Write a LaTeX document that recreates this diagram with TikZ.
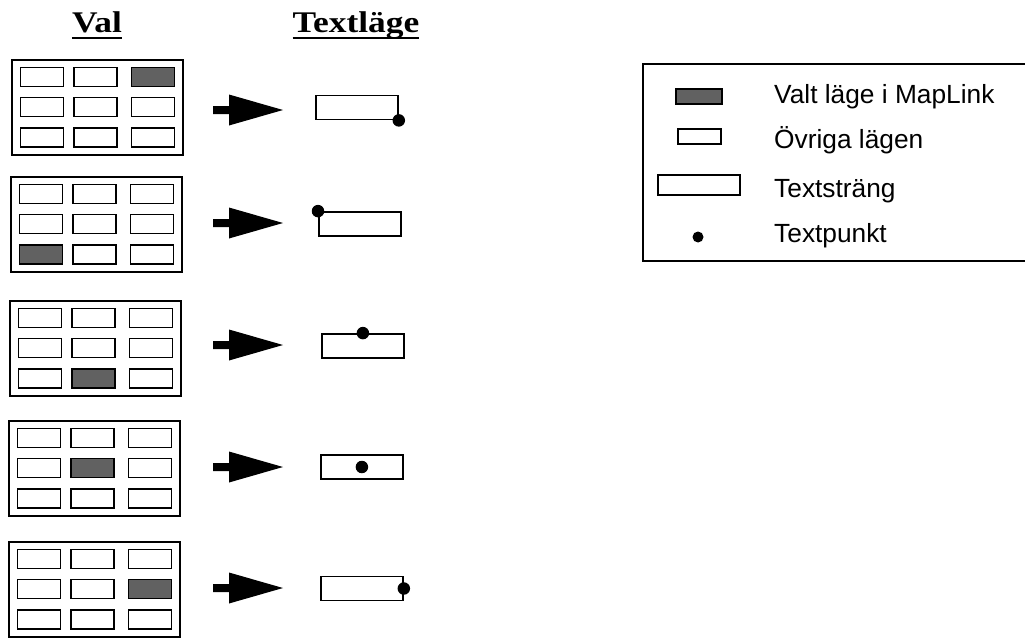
\documentclass[tikz,border=0pt]{standalone}
\usepackage{fontspec}
\newfontfamily\legendfont{Liberation Sans}
\newfontfamily\headfont{Liberation Serif}[FakeStretch=1.18]
% One row: choice grid, block arrow and the resulting text string with its text point.
% #1,#2 grid corner; #3,#4 offset of the chosen cell; #5 arrow level;
% #6 left edge of the string box; #7 its middle level; #8 anchor of the text point; #9 row name
\newcommand\modepanel[9]{%
  \draw[frame] (#1,#2) rectangle ++(171,95);
  \foreach \cx in {8.5,62,119.5}{
    \foreach \ry in {7.5,37.5,68}{
      \draw[cell] (#1+\cx,#2+\ry) rectangle ++(43,19);
    }
  }
  \draw[chosen] (#1+#3,#2+#4) rectangle ++(43,19);
  \fill[black] (213,#5-4) -- (229,#5-4) -- (229,#5-15.5) -- (283,#5)
    -- (229,#5+15.5) -- (229,#5+4) -- (213,#5+4) -- cycle;
  \node[strbox, anchor=west] (str#9) at (#6,#7) {};
  \node[tpoint] (pt#9) at (str#9.#8) {};
}
\begin{document}
\begin{tikzpicture}[x=1pt,y=-1pt,
  frame/.style={draw, line width=2.4pt},
  cell/.style={draw, line width=1.4pt, fill=white},
  chosen/.style={draw, line width=1.4pt, fill=black!62},
  strbox/.style={draw, line width=1.8pt, minimum width=82pt, minimum height=24pt, inner sep=0pt},
  tpoint/.style={circle, fill=black, inner sep=0pt, minimum size=12.5pt},
  heading/.style={font=\headfont\bfseries\fontsize{30}{32}\selectfont, anchor=base, inner sep=0pt},
  legtext/.style={font=\legendfont\fontsize{26.3}{28}\selectfont, anchor=base west, inner sep=0pt}]
\useasboundingbox (0,0) rectangle (1025,637);

% column headings
\node[heading] (valhead) at (97,32) {Val};
\node[heading] (modehead) at (356,32) {Textläge};
\draw[line width=2.4pt] ([yshift=-6pt]valhead.base west) -- ([yshift=-6pt]valhead.base east);
\draw[line width=2.4pt] ([yshift=-6pt]modehead.base west) -- ([yshift=-6pt]modehead.base east);

% the five choices
\modepanel{12}{60}{119.5}{7.5}{110}{315}{107.5}{south east}{a}
\modepanel{11}{177}{8.5}{68}{223}{318}{224}{north west}{b}
\modepanel{10}{301}{62}{68}{345}{321}{346}{north}{c}
\modepanel{9}{421}{62}{37.5}{467}{320}{467}{center}{d}
\modepanel{9}{542}{119.5}{37.5}{588}{320}{588.5}{east}{e}

% legend
\draw[line width=1.6pt] (643,64) rectangle (1040,261);
\node[chosen, minimum width=46pt, minimum height=15pt, inner sep=0pt] (legsel) at (699,96.5) {};
\node[cell, minimum width=43pt, minimum height=15pt, inner sep=0pt] (legother) at (699.5,136.5) {};
\node[strbox, minimum width=82pt, minimum height=20pt] (legstr) at (699,185) {};
\node[tpoint, minimum size=11pt] (legpt) at (698,237) {};
\node[legtext] (t1) at (774,103) {Valt läge i MapLink};
\node[legtext] (t2) at (774,148) {Övriga lägen};
\node[legtext] (t3) at (774,197) {Textsträng};
\node[legtext] (t4) at (774,242) {Textpunkt};
\end{tikzpicture}
\end{document}
